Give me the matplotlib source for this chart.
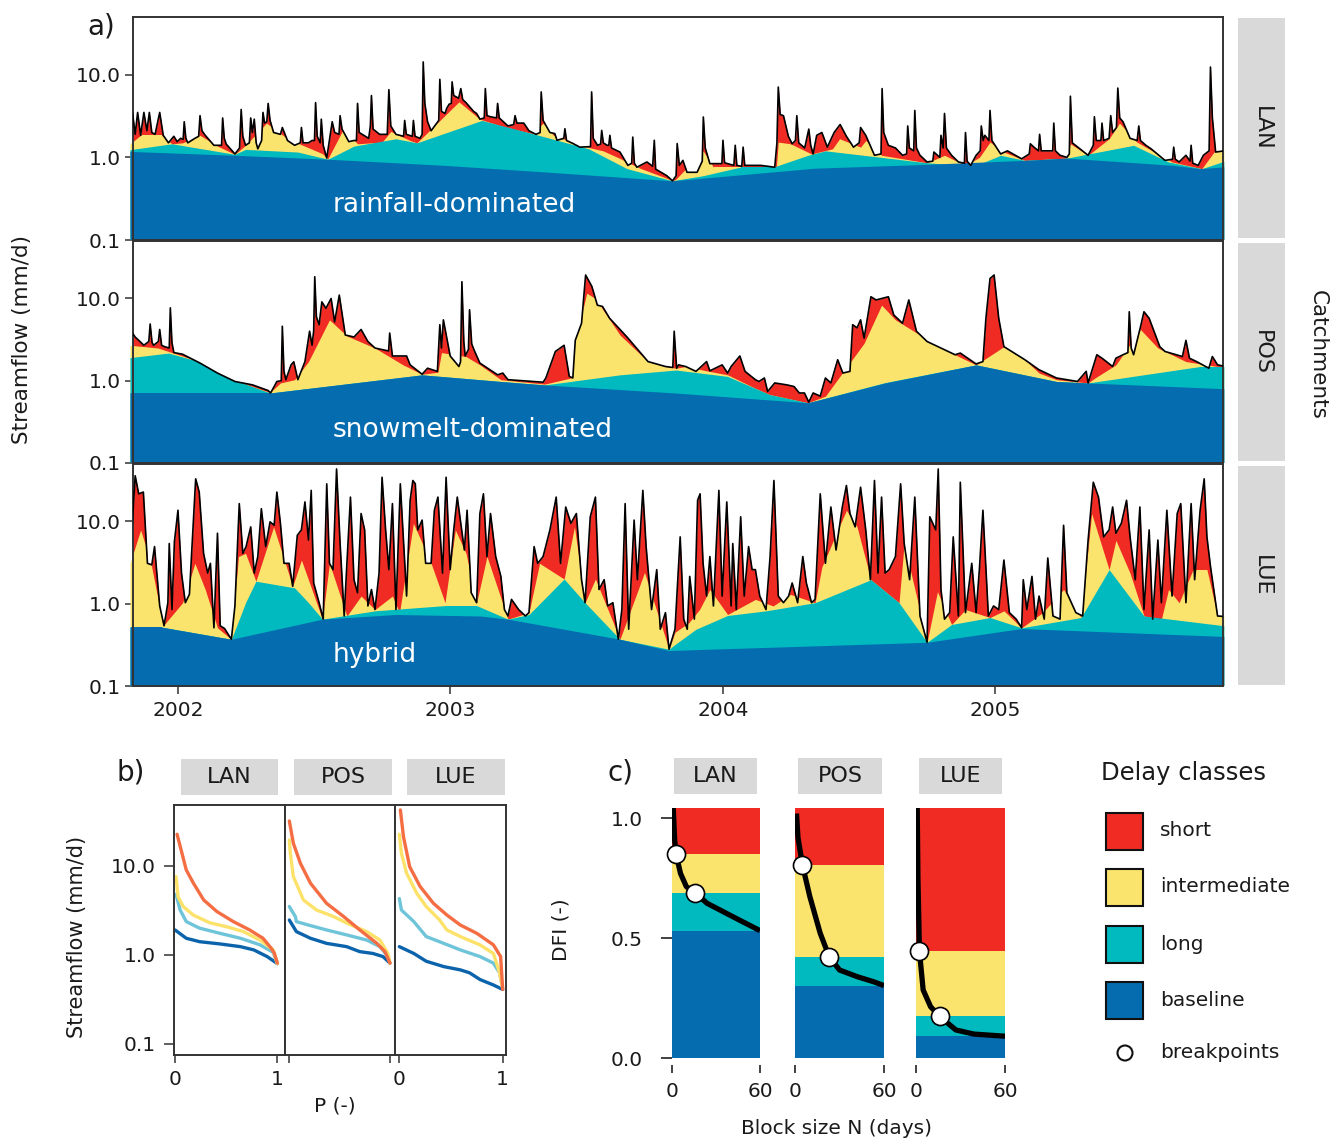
import numpy as np
import matplotlib
matplotlib.use("Agg")
import matplotlib.pyplot as plt
from matplotlib.patches import Rectangle, Circle
from matplotlib.ticker import NullLocator

plt.rcParams['font.family'] = ['DejaVu Sans']

# ---------------- colours ----------------
C_SHORT, C_INTER, C_LONG, C_BASE = "#EF2B24", "#FBE46D", "#00BABF", "#056CAF"
L_SHORT, L_INTER, L_LONG, L_BASE = "#F46D43", "#FDE26A", "#6EC4D8", "#0B63AB"

CATCHMENTS = ["LAN", "POS", "LUE"]
REGIMES = ["rainfall-dominated", "snowmelt-dominated", "hybrid"]
YEAR_TICKS = [2002, 2003, 2004, 2005]
DELAY_CLASSES = ["short", "intermediate", "long", "baseline"]

# ---------------- panel a: daily streamflow (decimal year, mm/d) ----------------
LAN_total = [(2001.824,1.9),(2001.833,3.5),(2001.843,1.9),(2001.852,3.5),(2001.863,1.85),(2001.875,3.5),(2001.886,2.1),(2001.895,3.5),(2001.904,2.0),(2001.916,1.9),
(2001.933,3.5),(2001.946,1.85),(2001.965,1.5),(2001.985,1.8),(2001.997,1.55),(2002.010,1.7),
(2002.019,1.65),(2002.023,2.7),(2002.029,1.7),(2002.036,1.5),(2002.062,1.7),(2002.076,1.8),(2002.081,3.2),(2002.088,2.1),(2002.100,1.85),(2002.132,1.4),
(2002.152,1.4),(2002.160,1.4),(2002.164,3.0),(2002.170,1.7),(2002.177,1.45),(2002.209,1.1),(2002.226,1.3),(2002.232,3.8),(2002.238,1.8),(2002.248,1.4),
(2002.262,1.5),(2002.267,3.0),(2002.273,2.0),(2002.280,2.9),(2002.287,1.5),(2002.293,1.27),(2002.307,1.6),(2002.312,3.5),(2002.318,2.6),(2002.326,2.7),
(2002.331,4.5),(2002.338,2.8),(2002.351,2.0),(2002.376,1.9),(2002.383,2.3),(2002.402,1.6),(2002.428,1.4),(2002.449,1.5),(2002.453,2.3),(2002.459,1.5),
(2002.479,1.5),(2002.492,1.6),(2002.501,1.6),(2002.505,4.6),(2002.511,1.8),(2002.522,1.5),(2002.526,2.9),(2002.533,1.4),(2002.546,0.98),(2002.562,2.2),
(2002.566,2.7),(2002.575,2.0),(2002.591,1.9),(2002.595,3.2),(2002.602,2.2),(2002.627,1.55),(2002.646,1.6),(2002.655,1.6),(2002.659,4.5),(2002.665,2.0),
(2002.700,1.7),(2002.706,2.4),(2002.710,5.6),(2002.716,2.2),(2002.740,1.9),(2002.768,1.9),(2002.774,6.6),(2002.781,2.4),(2002.800,1.9),(2002.828,1.8),
(2002.832,2.8),(2002.838,1.9),(2002.860,1.8),(2002.864,2.8),(2002.870,1.8),(2002.888,1.7),(2002.896,1.9),(2002.900,14.3),(2002.906,4.5),(2002.916,2.7),
(2002.929,2.1),(2002.957,2.8),(2002.961,8.8),(2002.967,3.6),(2002.980,3.4),(2002.986,3.9),(2002.995,4.4),(2003.003,4.5),(2003.006,8.2),(2003.012,5.6),
(2003.030,5.2),(2003.038,6.8),(2003.045,5.0),(2003.057,4.6),(2003.085,3.6),(2003.096,3.4),(2003.108,2.9),(2003.124,3.0),(2003.128,6.8),(2003.134,3.2),
(2003.147,3.1),(2003.169,3.0),(2003.173,4.5),(2003.179,3.0),(2003.211,2.4),(2003.232,2.5),(2003.237,3.2),(2003.244,2.6),(2003.269,2.6),(2003.288,2.1),
(2003.314,1.9),(2003.329,2.0),(2003.333,6.2),(2003.340,2.8),(2003.365,2.0),(2003.383,1.94),(2003.391,1.61),(2003.416,1.7),(2003.420,2.22),(2003.426,1.6),
(2003.450,1.47),(2003.475,1.33),(2003.514,1.35),(2003.518,6.2),(2003.524,1.7),(2003.540,1.4),(2003.551,1.45),(2003.555,2.12),(2003.561,1.5),(2003.575,1.4),
(2003.581,1.4),(2003.585,1.85),(2003.591,1.3),(2003.622,1.16),(2003.651,0.8),(2003.665,0.85),(2003.669,1.76),(2003.675,0.85),(2003.684,0.76),(2003.721,0.88),
(2003.742,0.78),(2003.748,1.61),(2003.753,0.72),(2003.794,0.6),(2003.815,0.52),(2003.828,0.6),(2003.832,1.47),(2003.840,0.8),(2003.853,0.92),(2003.868,0.66),
(2003.905,0.66),(2003.924,0.9),(2003.928,3.08),(2003.935,1.3),(2003.952,0.84),(2003.996,0.84),(2004.000,1.61),(2004.006,0.86),(2004.040,0.8),(2004.045,1.4),
(2004.051,0.8),(2004.069,0.78),(2004.074,1.33),(2004.080,0.8),(2004.119,0.8),(2004.139,0.8),(2004.190,0.76),
(2004.198,1.5),(2004.203,7.1),(2004.210,3.3),(2004.222,3.2),(2004.240,1.8),(2004.254,1.46),(2004.266,1.6),(2004.271,3.2),(2004.278,1.5),(2004.300,1.3),
(2004.315,2.2),(2004.322,1.4),(2004.331,1.1),(2004.344,1.85),(2004.363,2.0),(2004.383,1.33),(2004.408,2.0),(2004.430,2.5),(2004.453,1.8),(2004.479,1.33),
(2004.500,1.5),(2004.505,2.3),(2004.524,1.85),(2004.556,1.06),(2004.580,1.1),(2004.584,6.8),(2004.590,2.0),(2004.607,1.4),(2004.633,1.3),(2004.659,1.06),
(2004.674,1.1),(2004.678,2.4),(2004.684,1.3),(2004.700,1.2),(2004.704,3.7),(2004.710,1.3),(2004.723,1.06),(2004.749,0.88),(2004.770,0.9),(2004.774,1.16),
(2004.796,1.0),(2004.800,1.85),(2004.808,1.3),(2004.813,3.4),(2004.820,1.3),(2004.839,1.06),(2004.864,0.88),(2004.886,0.85),(2004.890,2.0),(2004.896,0.9),
(2004.909,0.8),(2004.929,1.06),(2004.944,1.2),(2004.948,2.4),(2004.955,1.6),(2004.961,1.85),(2004.976,1.6),(2004.980,3.7),(2004.987,1.6),(2005.019,1.1),
(2005.044,1.2),(2005.096,0.96),(2005.124,1.1),(2005.128,1.46),(2005.141,1.33),(2005.158,1.2),(2005.162,1.9),(2005.168,1.2),(2005.185,1.2),(2005.210,1.2),
(2005.214,2.6),(2005.220,1.2),(2005.237,1.06),(2005.262,1.0),(2005.271,1.1),(2005.275,5.5),(2005.282,1.5),(2005.340,1.06),(2005.359,1.4),(2005.363,3.1),
(2005.370,1.6),(2005.387,1.6),(2005.391,2.6),(2005.397,1.6),(2005.417,1.7),(2005.423,3.2),(2005.430,2.0),(2005.444,2.3),(2005.449,6.9),(2005.456,3.0),
(2005.468,2.7),(2005.494,1.7),(2005.520,1.6),(2005.526,2.4),(2005.532,1.6),(2005.552,1.4),(2005.571,1.27),(2005.622,0.92),(2005.650,0.95),(2005.654,1.33),
(2005.660,0.95),(2005.674,0.88),(2005.699,1.06),(2005.714,0.9),(2005.718,1.4),(2005.724,0.85),(2005.744,0.8),(2005.763,1.06),(2005.784,1.2),(2005.789,12.4),
(2005.796,3.0),(2005.808,1.16),(2005.840,1.2)]
LAN_inter = [(2001.824,1.46),(2001.863,1.85),(2001.940,1.85),(2001.978,1.46),(2002.017,1.5),(2002.081,1.85),(2002.145,1.37),(2002.209,1.09),(2002.248,1.4),(2002.325,2.6),
(2002.402,1.68),(2002.530,1.11),(2002.550,0.96),(2002.607,2.2),(2002.659,1.46),(2002.749,1.53),(2002.781,2.06),(2002.852,1.6),(2002.877,1.5),(2003.031,4.7),
(2003.108,2.9),(2003.185,2.4),(2003.301,1.94),(2003.340,2.6),(2003.378,1.85),(2003.494,1.35),(2003.560,1.2),(2003.622,0.97),(2003.695,0.74),(2003.787,0.57),
(2003.815,0.52),(2003.826,0.54),(2003.927,1.2),(2003.965,0.76),(2004.196,0.76),(2004.203,1.53),(2004.248,1.46),(2004.325,1.1),(2004.402,1.27),(2004.428,1.68),
(2004.505,1.33),(2004.524,1.6),(2004.582,1.06),(2004.749,0.86),(2004.813,1.06),(2004.890,0.8),(2004.941,1.0),(2004.980,1.53),(2005.031,1.16),(2005.108,0.92),
(2005.262,0.98),(2005.275,1.46),(2005.340,1.06),(2005.417,1.68),(2005.455,2.6),(2005.519,1.53),(2005.648,0.88),(2005.757,0.73),(2005.802,1.16),(2005.840,1.27)]
LAN_long = [(2001.824,1.24),(2001.978,1.46),(2002.209,1.09),(2002.248,1.25),(2002.440,1.16),(2002.550,0.95),(2002.646,1.37),(2002.800,1.68),(2002.877,1.5),(2003.115,2.8),
(2003.301,1.94),(2003.507,1.27),(2003.648,0.73),(2003.815,0.52),(2003.826,0.53),(2003.927,0.6),(2004.062,0.76),(2004.184,0.76),(2004.312,1.06),(2004.376,1.2),
(2004.582,1.0),(2004.749,0.86),(2004.890,0.8),(2004.929,0.8),(2005.019,1.06),(2005.108,0.92),(2005.262,0.98),(2005.507,1.4),(2005.635,0.88),(2005.757,0.73),(2005.840,0.9)]
LAN_base = [(2001.824,1.18),(2002.209,1.06),(2002.550,0.95),(2002.980,0.8),(2003.365,0.66),(2003.815,0.52),(2004.338,0.74),(2004.691,0.81),(2005.108,0.92),(2005.262,0.98),
(2005.654,0.8),(2005.750,0.73),(2005.840,0.77)]

POS_total = [(2001.824,4.2),(2001.843,3.4),(2001.875,2.7),(2001.893,3.0),(2001.898,4.9),(2001.905,2.9),(2001.911,2.7),(2001.928,3.0),(2001.933,4.2),(2001.940,2.7),
(2001.950,2.6),(2001.968,2.5),(2001.972,7.7),(2001.978,2.9),(2001.985,2.2),(2002.017,2.1),
(2002.081,1.64),(2002.145,1.24),(2002.209,0.98),(2002.274,0.89),(2002.331,0.76),(2002.340,0.71),(2002.363,0.98),(2002.379,1.0),(2002.383,4.6),(2002.389,1.3),(2002.396,1.03),(2002.415,1.56),
(2002.425,1.7),(2002.440,1.03),(2002.466,1.71),(2002.483,4.0),(2002.492,2.7),(2002.498,4.0),(2002.502,18.4),(2002.508,6.0),(2002.518,4.8),(2002.528,9.1),(2002.543,7.6),(2002.562,10.0),
(2002.575,5.2),(2002.592,11.0),(2002.614,3.6),(2002.646,3.4),(2002.672,4.2),(2002.697,3.0),(2002.723,2.5),(2002.773,2.3),(2002.777,3.8),(2002.787,2.0),(2002.839,2.0),
(2002.852,1.56),(2002.896,1.2),(2002.916,1.42),(2002.952,1.3),(2002.961,4.8),(2002.967,2.5),(2002.974,5.5),(2002.999,2.0),(2003.031,1.49),(2003.037,1.7),(2003.042,16.0),
(2003.049,3.0),(2003.054,2.0),(2003.066,2.4),(2003.070,7.3),(2003.078,2.8),(2003.089,2.27),(2003.108,1.64),(2003.173,1.18),(2003.192,1.24),(2003.211,1.03),(2003.340,0.96),(2003.350,1.08),(2003.385,2.27),
(2003.417,2.7),(2003.436,1.13),(2003.449,1.08),(2003.458,3.1),(2003.481,5.0),(2003.496,19.3),(2003.519,14.0),(2003.539,8.3),(2003.558,8.0),(2003.584,5.75),
(2003.648,3.4),(2003.674,2.7),(2003.725,1.71),(2003.789,1.49),(2003.816,1.45),(2003.821,4.0),(2003.830,1.42),
(2003.837,1.56),(2003.863,1.49),(2003.901,1.3),(2003.940,1.71),(2003.952,1.32),(2003.997,1.56),(2004.017,1.24),(2004.030,1.49),(2004.062,2.0),(2004.081,1.3),
(2004.119,1.03),(2004.132,0.98),(2004.152,1.08),(2004.164,0.74),(2004.190,0.94),(2004.235,0.89),(2004.261,0.85),(2004.280,0.71),(2004.299,0.71),(2004.315,0.55),
(2004.331,0.71),(2004.357,0.65),(2004.376,1.08),(2004.396,0.94),(2004.421,1.8),(2004.440,1.24),(2004.466,1.3),(2004.476,4.8),(2004.492,4.4),(2004.505,5.5),
(2004.518,3.3),(2004.543,10.5),(2004.562,9.6),(2004.582,10.0),(2004.607,10.5),(2004.627,6.3),(2004.659,5.0),(2004.682,9.6),(2004.710,4.0),(2004.749,3.0),
(2004.800,2.5),(2004.852,2.07),(2004.871,2.17),(2004.929,1.6),(2004.954,1.71),(2004.965,5.75),(2004.980,17.5),(2004.995,19.3),(2005.012,5.75),(2005.031,2.6),
(2005.108,1.8),(2005.160,1.36),(2005.224,1.08),(2005.301,0.98),(2005.333,1.3),(2005.340,0.94),(2005.372,2.07),(2005.391,1.88),(2005.430,1.49),(2005.442,1.88),
(2005.468,2.07),(2005.486,2.2),(2005.491,6.9),(2005.498,2.5),(2005.507,2.07),(2005.532,4.5),(2005.545,6.9),(2005.564,5.75),(2005.603,2.6),(2005.622,2.27),(2005.686,1.97),(2005.699,3.1),
(2005.712,1.88),(2005.738,1.71),(2005.783,1.42),(2005.796,1.97),(2005.815,1.56),(2005.840,1.5)]
POS_inter = [(2001.824,2.7),(2001.927,2.5),(2001.978,2.2),(2002.081,1.7),(2002.184,1.08),(2002.248,0.91),(2002.338,0.72),(2002.376,0.94),(2002.428,1.03),(2002.479,1.71),
(2002.556,5.5),(2002.620,3.5),(2002.723,2.5),(2002.826,1.56),(2002.896,1.2),(2002.954,1.27),(2002.967,2.2),(2003.057,1.97),(2003.108,1.56),(2003.185,1.03),
(2003.346,0.91),(2003.442,1.08),(2003.453,3.0),(2003.474,5.0),(2003.500,11.6),(2003.532,10.0),(2003.622,3.6),(2003.725,1.71),(2003.789,1.49),(2003.828,1.42),
(2003.863,1.49),(2003.940,1.32),(2004.017,1.18),(2004.119,0.81),(2004.171,0.68),(2004.312,0.54),(2004.376,0.65),(2004.518,2.86),(2004.582,8.3),(2004.633,5.5),
(2004.723,3.6),(2004.800,2.5),(2004.929,1.56),(2005.031,2.6),(2005.108,1.8),(2005.160,1.24),(2005.224,1.03),(2005.340,0.94),(2005.365,1.08),(2005.442,1.56),
(2005.532,4.2),(2005.596,2.5),(2005.699,1.71),(2005.815,1.49),(2005.840,1.5)]
POS_long = [(2001.824,1.91),(2001.965,2.17),(2002.081,1.7),(2002.184,1.08),(2002.248,0.91),(2002.338,0.71),(2002.896,1.18),(2003.185,0.98),(2003.346,0.89),(2003.622,1.18),
(2003.828,1.35),(2003.952,1.2),(2004.017,1.13),(2004.171,0.68),(2004.312,0.54),(2004.595,0.95),(2004.929,1.56),(2005.224,0.98),(2005.340,0.94),(2005.751,1.49),(2005.840,1.49)]
POS_base = [(2001.824,0.71),(2002.338,0.71),(2002.896,1.18),(2003.185,0.98),(2003.346,0.89),(2003.824,0.71),(2004.312,0.54),(2004.595,0.94),(2004.929,1.56),(2005.224,0.98),
(2005.340,0.94),(2005.840,0.8)]

LUE_total = [(2001.824,3.25),(2001.843,36),(2001.856,21.7),(2001.873,22.8),(2001.888,3.1),(2001.904,2.97),(2001.914,4.95),(2001.933,0.94),(2001.949,0.54),(2001.963,1.03),
(2001.968,5.4),(2001.978,0.85),(2001.987,5.7),(2002.000,13.7),(2002.013,2.36),(2002.027,1.03),(2002.042,1.3),(2002.065,33),(2002.078,22.8),(2002.094,4.1),
(2002.109,2.36),(2002.119,3.1),(2002.132,0.51),(2002.145,7.2),(2002.155,0.54),(2002.171,0.5),(2002.196,0.37),(2002.209,0.94),(2002.225,16.5),(2002.238,4.1),
(2002.250,4.95),(2002.267,8.6),(2002.280,2.36),(2002.293,3.75),(2002.306,14.3),(2002.322,4.95),(2002.338,9.9),(2002.353,9.0),(2002.363,22.8),(2002.376,9.5),
(2002.389,3.1),(2002.408,3.1),(2002.421,1.63),(2002.438,6.8),(2002.453,7.9),(2002.466,17.3),(2002.479,5.95),(2002.489,23.9),(2002.498,1.79),(2002.518,1.03),
(2002.533,0.65),(2002.546,28.7),(2002.556,3.1),(2002.569,2.6),(2002.582,43.5),(2002.595,5.4),(2002.610,0.71),(2002.620,3.1),(2002.633,19.8),(2002.646,1.96),
(2002.659,1.36),(2002.672,12.5),(2002.685,7.9),(2002.697,0.94),(2002.710,1.49),(2002.723,0.85),(2002.738,2.36),(2002.749,34.5),(2002.762,7.9),(2002.774,2.6),
(2002.787,16.5),(2002.800,0.85),(2002.816,28.7),(2002.839,1.24),(2002.852,18.1),(2002.862,31.5),(2002.871,28.7),(2002.880,7.9),(2002.896,10.4),(2002.909,3.1),
(2002.929,3.1),(2002.941,13.7),(2002.954,19.8),(2002.971,2.36),(2002.984,34.5),(2002.999,2.6),(2003.012,7.9),(2003.025,19.8),(2003.038,9.5),(2003.051,4.5),
(2003.061,13.7),(2003.076,1.36),(2003.096,1.03),(2003.108,12.5),(2003.121,21.7),(2003.134,3.75),(2003.147,12.5),(2003.166,3.75),(2003.185,2.15),(2003.198,0.85),
(2003.211,0.71),(2003.224,1.13),(2003.250,0.85),(2003.275,0.71),(2003.288,0.78),(2003.307,4.95),(2003.320,3.1),(2003.340,3.75),(2003.365,7.9),(2003.388,19.8),
(2003.404,3.1),(2003.423,15.0),(2003.442,9.5),(2003.462,12.5),(2003.481,1.96),(2003.494,1.03),(2003.513,11.4),(2003.532,19.8),(2003.545,1.49),(2003.564,1.96),
(2003.577,0.94),(2003.596,1.03),(2003.616,0.37),(2003.629,0.85),(2003.641,16.5),(2003.654,0.49),(2003.674,10.4),(2003.686,1.96),(2003.706,23.9),(2003.718,4.95),
(2003.738,0.85),(2003.757,2.6),(2003.770,0.49),(2003.789,0.78),(2003.802,0.28),
(2003.824,0.49),(2003.834,1.96),(2003.843,6.5),(2003.856,0.65),(2003.869,0.49),(2003.878,2.15),(2003.895,0.65),(2003.907,18.1),(2003.916,21.7),(2003.927,3.1),
(2003.940,1.24),(2003.952,3.75),(2003.965,0.94),(2003.985,23.9),(2003.997,1.24),(2004.014,17.3),(2004.030,0.94),(2004.036,5.4),(2004.049,0.85),(2004.065,11.4),
(2004.078,1.24),(2004.094,4.95),(2004.107,2.6),(2004.119,2.6),(2004.135,1.24),(2004.158,0.85),(2004.173,3.75),(2004.187,31.5),(2004.203,1.24),(2004.222,1.03),
(2004.241,1.24),(2004.254,1.79),(2004.274,1.03),(2004.293,3.75),(2004.306,1.79),(2004.325,1.03),(2004.338,1.13),(2004.357,21.7),(2004.376,3.1),(2004.396,15.0),
(2004.415,4.5),(2004.438,15.0),(2004.453,27.4),(2004.466,12.5),(2004.485,8.6),(2004.505,26.1),(2004.524,7.9),(2004.541,1.96),(2004.556,31.5),(2004.569,2.36),
(2004.582,19.8),(2004.595,2.36),(2004.610,2.6),(2004.633,3.75),(2004.652,28.7),(2004.665,5.4),(2004.685,1.96),(2004.704,19.8),(2004.723,0.71),(2004.749,0.34),
(2004.759,11.4),(2004.781,7.9),(2004.790,43.5),(2004.800,1.49),(2004.813,0.65),(2004.832,0.78),(2004.845,6.5),(2004.864,0.71),(2004.871,30),(2004.890,0.78),
(2004.913,3.1),(2004.929,0.78),(2004.941,2.6),(2004.954,13.7),(2004.974,0.71),(2004.993,0.94),(2005.012,0.85),(2005.031,3.4),(2005.051,0.78),(2005.076,0.65),
(2005.096,0.51),(2005.102,1.96),(2005.115,0.85),(2005.134,2.15),(2005.147,0.65),(2005.160,1.24),(2005.179,0.65),(2005.192,3.6),(2005.211,0.71),(2005.237,0.65),
(2005.250,9.0),(2005.262,1.36),(2005.295,0.78),(2005.320,0.71),(2005.340,5.95),(2005.359,30),(2005.378,19.8),(2005.397,6.5),(2005.417,7.9),(2005.430,15.0),
(2005.442,7.2),(2005.462,9.5),(2005.481,18.1),(2005.494,6.5),(2005.513,1.96),(2005.530,15.0),(2005.545,0.85),(2005.564,7.9),(2005.577,0.65),(2005.596,5.95),
(2005.609,1.03),(2005.629,13.7),(2005.648,1.24),(2005.667,12.5),(2005.680,16.5),(2005.699,1.03),(2005.718,16.5),(2005.731,1.96),(2005.751,13.7),(2005.766,33),
(2005.776,6.5),(2005.789,2.85),(2005.815,0.71),(2005.840,0.7)]
LUE_inter = [(2001.824,3.1),(2001.863,7.9),(2001.901,3.1),(2001.946,0.54),(2002.017,1.03),(2002.062,3.1),(2002.100,1.49),(2002.145,0.51),(2002.196,0.37),(2002.222,3.75),
(2002.248,4.1),(2002.286,1.88),(2002.351,8.6),(2002.421,1.63),(2002.453,3.4),(2002.530,0.65),(2002.556,3.1),(2002.620,0.71),(2002.672,1.24),(2002.723,0.85),
(2002.787,1.24),(2002.813,0.78),(2002.864,9.5),(2002.929,3.1),(2002.980,1.03),(2003.018,7.9),(2003.057,4.1),(2003.096,1.03),(2003.134,3.75),(2003.211,0.65),
(2003.288,0.78),(2003.327,3.1),(2003.417,2.0),(2003.455,8.6),(2003.494,1.03),(2003.532,2.0),(2003.622,0.37),(2003.712,2.4),(2003.802,0.28),
(2003.824,0.45),(2003.875,0.59),(2003.914,0.85),(2003.952,1.49),(2004.017,0.74),(2004.119,1.13),(2004.184,0.94),(2004.248,1.3),(2004.338,1.03),(2004.363,2.8),
(2004.453,13.7),(2004.492,8.6),(2004.543,1.96),(2004.646,1.03),(2004.665,5.4),(2004.710,1.24),(2004.749,0.34),(2004.787,1.4),(2004.839,0.56),(2004.890,0.85),
(2004.980,0.68),(2005.031,0.82),(2005.096,0.51),(2005.173,0.78),(2005.250,1.49),(2005.314,0.68),(2005.353,12.5),(2005.417,2.6),(2005.442,5.9),(2005.494,2.35),
(2005.545,0.71),(2005.609,0.65),(2005.635,1.49),(2005.674,1.03),(2005.725,2.6),(2005.776,2.6),(2005.815,0.71),(2005.840,0.7)]
LUE_long = [(2001.824,0.52),(2001.940,0.52),(2002.196,0.37),(2002.248,1.03),(2002.286,1.88),(2002.428,1.56),(2002.479,1.03),(2002.530,0.65),(2002.723,0.82),(2002.980,0.95),
(2003.096,0.95),(2003.211,0.65),(2003.288,0.74),(2003.417,2.0),(2003.494,1.03),(2003.622,0.37),(2003.802,0.28),(2003.824,0.32),(2003.901,0.49),(2004.017,0.72),
(2004.158,0.82),(2004.338,1.03),(2004.543,1.96),(2004.646,1.03),(2004.749,0.34),(2004.839,0.56),(2004.980,0.68),(2005.096,0.51),(2005.314,0.68),(2005.417,2.6),
(2005.545,0.71),(2005.840,0.54)]
LUE_base = [(2001.824,0.52),(2001.940,0.52),(2002.196,0.37),(2002.530,0.65),(2002.800,0.74),(2003.108,0.71),(2003.211,0.65),(2003.622,0.37),(2003.802,0.27),(2004.749,0.34),
(2005.096,0.5),(2005.840,0.4)]

SERIES_A = {
    "LAN": (LAN_total, LAN_inter, LAN_long, LAN_base),
    "POS": (POS_total, POS_inter, POS_long, POS_base),
    "LUE": (LUE_total, LUE_inter, LUE_long, LUE_base),
}

# ---------------- panel b: flow duration curves (P, mm/d) ----------------
FDC_LAN_short = [(0.02,22.7),(0.11,9.0),(0.18,6.4),(0.28,4.15),(0.41,3.07),(0.57,2.37),(0.73,1.91),(0.86,1.54),(0.94,1.19),(0.97,1.05),(1.0,0.81)]
FDC_LAN_inter = [(0.01,7.6),(0.03,4.5),(0.08,3.5),(0.18,2.8),(0.34,2.3),(0.50,2.08),(0.67,1.83),(0.83,1.47),(0.96,1.14),(1.0,0.8)]
FDC_LAN_long = [(0.01,4.8),(0.05,3.2),(0.11,2.37),(0.24,2.0),(0.44,1.75),(0.64,1.54),(0.83,1.30),(0.96,1.07),(1.0,0.8)]
FDC_LAN_base = [(0.0,1.91),(0.11,1.54),(0.24,1.41),(0.44,1.33),(0.64,1.24),(0.77,1.14),(0.90,0.96),(1.0,0.8)]
FDC_POS_short = [(0.0,32),(0.04,18),(0.11,10.7),(0.21,6.4),(0.37,3.8),(0.54,2.7),(0.70,1.91),(0.87,1.35),(0.95,1.09),(1.0,0.81)]
FDC_POS_inter = [(0.0,19.6),(0.01,13.9),(0.04,7.6),(0.14,4.15),(0.27,3.2),(0.44,2.7),(0.60,2.2),(0.77,1.83),(0.90,1.47),(0.98,1.04),(1.0,0.81)]
FDC_POS_long = [(0.0,3.5),(0.02,3.2),(0.06,2.7),(0.07,2.37),(0.17,2.2),(0.37,1.91),(0.57,1.68),(0.77,1.47),(0.90,1.24),(0.98,0.96),(1.0,0.81)]
FDC_POS_base = [(0.0,2.47),(0.07,1.83),(0.21,1.54),(0.37,1.35),(0.57,1.24),(0.70,1.09),(0.83,1.04),(0.93,0.96),(1.0,0.81)]
FDC_LUE_short = [(0.01,42.6),(0.04,21.3),(0.10,9.8),(0.20,5.9),(0.33,3.8),(0.46,2.81),(0.59,2.17),(0.75,1.75),(0.91,1.30),(0.98,0.96),(1.0,0.41)]
FDC_LUE_inter = [(0.0,22.7),(0.02,13.9),(0.07,8.3),(0.17,4.9),(0.26,3.5),(0.39,2.47),(0.46,1.91),(0.59,1.61),(0.78,1.30),(0.91,1.04),(0.97,0.63),(1.0,0.42)]
FDC_LUE_long = [(0.0,4.3),(0.02,3.2),(0.14,2.37),(0.26,1.61),(0.43,1.35),(0.59,1.14),(0.78,0.96),(0.91,0.81),(0.97,0.63),(0.99,0.48)]
FDC_LUE_base = [(0.0,1.24),(0.14,1.04),(0.26,0.85),(0.43,0.74),(0.59,0.68),(0.68,0.63),(0.78,0.53),(0.91,0.46),(1.0,0.41)]

SERIES_B = {
    "LAN": (FDC_LAN_short, FDC_LAN_inter, FDC_LAN_long, FDC_LAN_base),
    "POS": (FDC_POS_short, FDC_POS_inter, FDC_POS_long, FDC_POS_base),
    "LUE": (FDC_LUE_short, FDC_LUE_inter, FDC_LUE_long, FDC_LUE_base),
}

# ---------------- panel c: DFI vs block size ----------------
N_LAN = [1, 2, 3, 6, 10, 16, 24, 35, 46, 60]
DFI_LAN = [1.05, 0.91, 0.85, 0.77, 0.715, 0.69, 0.646, 0.611, 0.576, 0.532]
BP_LAN = [3, 16]
N_POS = [1, 2, 5, 10, 17, 23, 30, 42, 53, 60]
DFI_POS = [1.02, 0.92, 0.806, 0.674, 0.521, 0.424, 0.368, 0.340, 0.319, 0.303]
BP_POS = [5, 23]
N_LUE = [1, 1.5, 2.5, 5, 10, 16, 27, 39, 60]
DFI_LUE = [1.05, 0.75, 0.447, 0.285, 0.215, 0.175, 0.118, 0.101, 0.092]
BP_LUE = [2.5, 16]

SERIES_C = {"LAN": (N_LAN, DFI_LAN, BP_LAN), "POS": (N_POS, DFI_POS, BP_POS), "LUE": (N_LUE, DFI_LUE, BP_LUE)}

# ================= figure =================
W, H = 1341, 1141
fig = plt.figure(figsize=(W / 100, H / 100), dpi=100)
TXT = "#1a1a1a"
FRAME = "#333333"


def px_axes(l, t, r, b, **kw):
    return fig.add_axes([l / W, 1 - b / H, (r - l) / W, (b - t) / H], **kw)


def frame(ax):
    for s in ax.spines.values():
        s.set_color(FRAME)
        s.set_linewidth(1.4)


# ---- panel a ----
rows_a = [(17, 240), (241, 463), (464, 686)]
for i, c in enumerate(CATCHMENTS):
    top, bot = rows_a[i]
    ax = px_axes(133, top, 1223, bot)
    ax.set_yscale("log")
    ax.set_ylim(0.1, 50)
    ax.set_xlim(2001.835, 2005.835)
    total, inter, long_, base = SERIES_A[c]
    tt, tq = np.array(total).T
    poly = ax.fill_between(tt, 0.1, tq, color=C_SHORT, lw=0, zorder=1)
    clip = poly.get_paths()[0]
    for arr, col in [(inter, C_INTER), (long_, C_LONG), (base, C_BASE)]:
        t, q = np.array(arr).T
        coll = ax.fill_between(t, 0.1, q, color=col, lw=0, zorder=2)
        coll.set_clip_path(clip, ax.transData)
        coll.set_clip_box(ax.bbox)
    ax.plot(tt, tq, color="black", lw=1.2, zorder=3)
    ax.set_yticks([0.1, 1, 10])
    ax.set_yticklabels(["0.1", "1.0", "10.0"])
    ax.yaxis.set_minor_locator(NullLocator())
    ax.tick_params(axis="y", direction="out", length=6, width=1.1, pad=3,
                   labelsize=14.5, color=FRAME, labelcolor=TXT)
    if i < 2:
        ax.set_xticks([])
    else:
        ax.set_xticks(YEAR_TICKS)
        ax.set_xticklabels([str(y) for y in YEAR_TICKS])
        ax.tick_params(axis="x", direction="out", length=6, width=1.1, pad=5,
                       labelsize=14.5, color=FRAME, labelcolor=TXT)
    frame(ax)

# ---- panel b ----
cols_b = [(174, 285), (285, 395), (395, 506)]
xlims_b = [(-0.01, 1.075), (-0.043, 1.05), (-0.042, 1.032)]
line_cols = [L_SHORT, L_INTER, L_LONG, L_BASE]
for i, c in enumerate(CATCHMENTS):
    l, r = cols_b[i]
    ax = px_axes(l, 805, r, 1055)
    for arr, col in zip(SERIES_B[c][::-1], line_cols[::-1]):
        p, q = np.array(arr).T
        ax.plot(p, q, color=col, lw=2.4, solid_capstyle="round")
    ax.set_yscale("log")
    ax.set_ylim(0.0752, 48.4)
    ax.set_xlim(*xlims_b[i])
    ax.yaxis.set_minor_locator(NullLocator())
    if i == 0:
        ax.set_yticks([0.1, 1, 10])
        ax.set_yticklabels(["0.1", "1.0", "10.0"])
        ax.tick_params(axis="y", direction="out", length=7, width=1.1, pad=6,
                       labelsize=14.5, color=FRAME, labelcolor=TXT)
    else:
        ax.set_yticks([])
    ax.set_xticks([0, 1])
    ax.set_xticklabels(["", ""] if c == "POS" else ["0", "1"])
    ax.tick_params(axis="x", direction="out", length=6, width=1.1, pad=5,
                   labelsize=14.5, color=FRAME, labelcolor=TXT)
    frame(ax)

# ---- panel c ----
cols_c = [(671.7, 760), (795, 884), (915.7, 1005)]
for i, c in enumerate(CATCHMENTS):
    l, r = cols_c[i]
    ax = px_axes(l, 808, r, 1058.3)
    N, D, BP = SERIES_C[c]
    d_bp = [D[N.index(b)] for b in BP]
    d_end = D[-1]
    ax.axhspan(0, d_end, color=C_BASE, lw=0)
    ax.axhspan(d_end, d_bp[1], color=C_LONG, lw=0)
    ax.axhspan(d_bp[1], d_bp[0], color=C_INTER, lw=0)
    ax.axhspan(d_bp[0], 1.2, color=C_SHORT, lw=0)
    ax.plot(N, D, color="black", lw=3.8, solid_capstyle="butt", zorder=3)
    ax.plot(BP, d_bp, "o", ms=13, mfc="white", mec="black", mew=1.2, zorder=4, clip_on=False)
    ax.set_xlim(0, 60)
    ax.set_ylim(0, 1.043)
    for s in ax.spines.values():
        s.set_visible(False)
    ax.spines["bottom"].set_position(("outward", 5))
    ax.set_xticks([0, 60])
    ax.set_xticklabels(["0", "60"])
    ax.tick_params(axis="x", direction="out", length=6, width=1.3, pad=6,
                   labelsize=14.5, color=FRAME, labelcolor=TXT)
    if i == 0:
        ax.set_yticks([0, 0.5, 1.0])
        ax.set_yticklabels(["0.0", "0.5", "1.0"])
        ax.tick_params(axis="y", direction="out", length=8, width=1.3, pad=13,
                       labelsize=14.5, color=FRAME, labelcolor=TXT)
    else:
        ax.set_yticks([])

# ---- overlay (pixel coordinates) for strips, labels, legend ----
ov = fig.add_axes([0, 0, 1, 1], zorder=20)
ov.set_xlim(0, W)
ov.set_ylim(H, 0)
ov.axis("off")
STRIP = "#D9D9D9"


def strip(x0, y0, x1, y1, label, rot=0):
    ov.add_patch(Rectangle((x0, y0), x1 - x0, y1 - y0, facecolor=STRIP, edgecolor="none"))
    ov.text((x0 + x1) / 2, (y0 + y1) / 2, label, ha="center", va="center",
            rotation=rot, fontsize=16, color=TXT)


strips_a = [(18, 238), (243, 461), (466, 685)]
for c, (y0, y1) in zip(CATCHMENTS, strips_a):
    strip(1238, y0, 1285, y1, c, rot=270)
for c, (x0, x1) in zip(CATCHMENTS, [(181, 278), (294, 392), (407, 505)]):
    strip(x0, 759, x1, 795, c)
for c, (x0, x1) in zip(CATCHMENTS, [(674, 757), (798, 882), (919, 1002)]):
    strip(x0, 758, x1, 794, c)

for lab, yc in zip(REGIMES, [205, 430, 655]):
    ov.text(333, yc, lab, ha="left", va="center", fontsize=19, color="white")

ov.text(101, 27, "a)", ha="center", va="center", fontsize=20, color=TXT)
ov.text(131, 772, "b)", ha="center", va="center", fontsize=20, color=TXT)
ov.text(621, 773, "c)", ha="center", va="center", fontsize=20, color=TXT)
ov.text(22, 340, "Streamflow (mm/d)", ha="center", va="center", rotation=90, fontsize=15.5, color=TXT)
ov.text(1318, 355, "Catchments", ha="center", va="center", rotation=270, fontsize=15.5, color=TXT)
ov.text(77, 937, "Streamflow (mm/d)", ha="center", va="center", rotation=90, fontsize=15, color=TXT)
ov.text(335, 1106, "P (-)", ha="center", va="center", fontsize=14.5, color=TXT)
ov.text(561, 930, "DFI (-)", ha="center", va="center", rotation=90, fontsize=14.5, color=TXT)
ov.text(837, 1128, "Block size N (days)", ha="center", va="center", fontsize=14.5, color=TXT)

# legend
ov.text(1101, 773, "Delay classes", ha="left", va="center", fontsize=17.5, color=TXT)
for lab, col, yc in zip(DELAY_CLASSES, [C_SHORT, C_INTER, C_LONG, C_BASE], [831, 887, 944, 1000]):
    ov.add_patch(Rectangle((1106, yc - 18.5), 37, 37, facecolor=col, edgecolor="#111111", lw=1.5))
    ov.text(1160, yc, lab, ha="left", va="center", fontsize=14.5, color=TXT)
ov.add_patch(Circle((1125, 1053), 7.5, facecolor="white", edgecolor="#111111", lw=1.5))
ov.text(1160, 1053, "breakpoints", ha="left", va="center", fontsize=14.5, color=TXT)

fig.savefig("out.png", dpi=100)
